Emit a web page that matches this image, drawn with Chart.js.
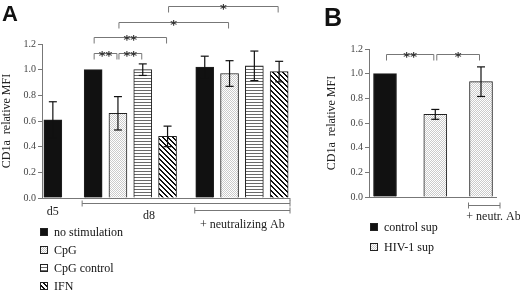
<!DOCTYPE html>
<html lang="en">
<head>
<meta charset="utf-8"/>
<title>CD1a relative MFI</title>
<script src="https://cdn.jsdelivr.net/npm/chart.js"></script>
<style>
  body { margin: 0; background: #fff; }
  #wrap { position: relative; width: 520px; height: 293px; }
  .panel { position: absolute; top: 0; height: 293px; }
  #panelA { left: 0; width: 315px; }
  #panelB { left: 315px; width: 205px; }
</style>
</head>
<body>
<div id="wrap">
  <div class="panel" id="panelA"><canvas id="chartA" width="315" height="293"></canvas></div>
  <div class="panel" id="panelB"><canvas id="chartB" width="205" height="293"></canvas></div>
</div>
<script>
// ---- data, panel A ----
const conditionsA = ['no stimulation', 'CpG', 'CpG control', 'IFN'];
const d5Mean = [0.61];
const d5Err = [0.14];
const d8Mean = [1.00, 0.66, 1.00, 0.48];
const d8Err = [0, 0.13, 0.045, 0.08];
const neutMean = [1.02, 0.97, 1.03, 0.985];
const neutErr = [0.085, 0.10, 0.115, 0.08];
const groupLabelsA = ['d5', 'd8', '+ neutralizing Ab'];
// [group, condition, group, condition, mark]
const sigA = [
  ['d8', 3, 'neut', 3, '*'],
  ['d8', 1, 'neut', 1, '*'],
  ['d8', 0, 'd8', 3, '**'],
  ['d8', 0, 'd8', 1, '**'],
  ['d8', 1, 'd8', 2, '**']
];

// ---- data, panel B ----
const conditionsB = ['control sup', 'HIV-1 sup'];
const meanB = [1.00, 0.67, 0.935];
const errB = [0, 0.04, 0.12];
const condOfBarB = [0, 1, 1];
const neutLabelB = '+ neutr. Ab';
const sigB = [[0, 1, '**'], [1, 2, '*']];

const yTicks = [0, 0.2, 0.4, 0.6, 0.8, 1.0, 1.2];
const yTitle = 'CD1a  relative MFI';

// ---- fills ----
function makeFill(kind) {
  if (kind === 'solid') return '#111';
  const c = document.createElement('canvas');
  const g = c.getContext('2d');
  const n = kind === 'dots' ? 2 : kind === 'hlines' ? 3 : 5;
  c.width = c.height = n;
  g.fillStyle = '#fff';
  g.fillRect(0, 0, n, n);
  for (let x = 0; x < n; x++) {
    for (let y = 0; y < n; y++) {
      if (kind === 'dots' && (x + y) % 2 === 0) { g.fillStyle = '#cbcbcb'; g.fillRect(x, y, 1, 1); }
      if (kind === 'hlines' && y === 0) { g.fillStyle = '#6a6a6a'; g.fillRect(x, y, 1, 1); }
      if (kind === 'diag' && ((x - y + n) % n) < 2) { g.fillStyle = '#111'; g.fillRect(x, y, 1, 1); }
    }
  }
  return g.createPattern(c, 'repeat');
}
const fillKinds = ['solid', 'dots', 'hlines', 'diag'];

// ---- slot layout ----
const SLOTS_A = 80, STEP_A = 8;
const groupStartA = { d5: 3, d8: 16, neut: 52 };
const SLOTS_B = 28;
const slotB = [3, 14, 24];
const slotOfA = (grp, c) => groupStartA[grp] + c * STEP_A;

const serif = 'Liberation Serif';
const axisGray = '#777';

function baseOptions(padding, yWidth) {
  return {
    responsive: false,
    animation: false,
    layout: { padding },
    plugins: { legend: { display: false }, tooltip: { enabled: false } },
    scales: {
      x: {
        offset: true,
        ticks: { display: false },
        grid: { display: false },
        border: { display: false },
        afterFit: s => { s.height = 0; }
      },
      y: {
        min: 0, max: 1.2,
        afterBuildTicks: s => { s.ticks = yTicks.map(v => ({ value: v })); },
        ticks: { padding: 2, color: '#444', font: { family: serif, size: 10 }, callback: v => v.toFixed(1) },
        grid: { drawOnChartArea: false, drawTicks: true, tickLength: 4, color: axisGray },
        border: { display: true, color: axisGray },
        title: { display: true, text: yTitle, color: '#222', font: { family: serif, size: 12 }, padding: { top: 0, bottom: 0 } },
        afterFit: s => { s.width = yWidth; }
      }
    }
  };
}

function line(ctx, x1, y1, x2, y2) {
  ctx.beginPath(); ctx.moveTo(x1, y1); ctx.lineTo(x2, y2); ctx.stroke();
}

function drawErrors(chart) {
  const ctx = chart.ctx, y = chart.scales.y;
  ctx.save();
  ctx.strokeStyle = '#111';
  ctx.lineWidth = 1.2;
  chart.data.datasets.forEach((ds, di) => {
    const meta = chart.getDatasetMeta(di);
    ds.data.forEach((v, i) => {
      const e = ds.errors[i];
      if (v == null || !e) return;
      const x = meta.data[i].x;
      const top = y.getPixelForValue(v + e), bot = y.getPixelForValue(v - e);
      line(ctx, x, top, x, bot);
      line(ctx, x - 4, top, x + 4, top);
      line(ctx, x - 4, bot, x + 4, bot);
    });
  });
  ctx.restore();
}

function bracket(ctx, x1, x2, y, mark) {
  ctx.strokeStyle = axisGray;
  ctx.lineWidth = 1;
  ctx.beginPath();
  ctx.moveTo(x1, y + 6); ctx.lineTo(x1, y); ctx.lineTo(x2, y); ctx.lineTo(x2, y + 6);
  ctx.stroke();
  ctx.fillStyle = '#333';
  ctx.font = 'bold 13px "DejaVu Sans"';
  ctx.textAlign = 'center';
  ctx.textBaseline = 'alphabetic';
  ctx.fillText(mark, (x1 + x2) / 2, y + 6);
}

function rangeLine(ctx, x1, x2, y) {
  ctx.strokeStyle = axisGray;
  ctx.lineWidth = 1;
  line(ctx, x1, y, x2, y);
  line(ctx, x1, y - 3, x1, y + 3);
  line(ctx, x2, y - 3, x2, y + 3);
}

function legend(ctx, x, y0, step, names, kinds) {
  ctx.font = '12px "' + serif + '"';
  ctx.textAlign = 'left';
  ctx.textBaseline = 'middle';
  names.forEach((name, i) => {
    const yc = y0 + i * step;
    ctx.fillStyle = makeFill(kinds[i]);
    ctx.fillRect(x, yc - 4, 8, 8);
    ctx.strokeStyle = '#222';
    ctx.lineWidth = 1;
    ctx.strokeRect(x + 0.5, yc - 3.5, 7, 7);
    ctx.fillStyle = '#111';
    ctx.fillText(name, x + 14, yc + 1);
  });
}

function panelLetter(ctx, t, x, y, size) {
  ctx.fillStyle = '#111';
  ctx.font = 'bold ' + size + 'px "Liberation Sans"';
  ctx.textAlign = 'left';
  ctx.textBaseline = 'top';
  ctx.fillText(t, x, y);
}

// ---- chart A ----
const labelsA = Array.from({ length: SLOTS_A }, () => '');
const datasetsA = conditionsA.map((name, c) => {
  const data = Array(SLOTS_A).fill(null), errors = Array(SLOTS_A).fill(0);
  if (c < d5Mean.length) { data[slotOfA('d5', c)] = d5Mean[c]; errors[slotOfA('d5', c)] = d5Err[c]; }
  data[slotOfA('d8', c)] = d8Mean[c]; errors[slotOfA('d8', c)] = d8Err[c];
  data[slotOfA('neut', c)] = neutMean[c]; errors[slotOfA('neut', c)] = neutErr[c];
  return {
    label: name, data, errors,
    backgroundColor: makeFill(fillKinds[c]),
    borderColor: '#222', borderWidth: 1,
    barThickness: 18, grouped: false
  };
});

const overlayA = {
  id: 'overlayA',
  afterDatasetsDraw(chart) { drawErrors(chart); },
  afterDraw(chart) {
    const ctx = chart.ctx, area = chart.chartArea, xs = chart.scales.x;
    const px = (g, c) => xs.getPixelForValue(slotOfA(g, c));
    ctx.save();
    ctx.strokeStyle = axisGray;
    ctx.lineWidth = 1;
    line(ctx, area.left, area.bottom + 0.5, area.right, area.bottom + 0.5);
    line(ctx, area.right, area.bottom, area.right, area.bottom + 3);

    const d8Left = px('d8', 0) - 11, neutLeft = px('neut', 0) - 10;
    rangeLine(ctx, d8Left, area.right, area.bottom + 5.5);
    rangeLine(ctx, neutLeft, area.right, area.bottom + 12.5);

    ctx.fillStyle = '#222';
    ctx.font = '12px "' + serif + '"';
    ctx.textAlign = 'center';
    ctx.textBaseline = 'middle';
    ctx.fillText(groupLabelsA[0], px('d5', 0), area.bottom + 14);
    ctx.fillText(groupLabelsA[1], (px('d8', 0) + px('neut', 0)) / 2, area.bottom + 18);
    ctx.fillText(groupLabelsA[2], (neutLeft + area.right) / 2, area.bottom + 27);

    const levels = [6, 22, 37, 53, 53];
    sigA.forEach((s, i) => bracket(ctx, px(s[0], s[1]) + 1, px(s[2], s[3]) - 1, levels[i] + 0.5, s[4]));

    legend(ctx, 40, 232, 18, conditionsA, fillKinds);
    panelLetter(ctx, 'A', 2, 4, 22);
    ctx.restore();
  }
};

new Chart(document.getElementById('chartA'), {
  type: 'bar',
  data: { labels: labelsA, datasets: datasetsA },
  options: baseOptions({ top: 44, bottom: 95, left: 0, right: 25 }, 42),
  plugins: [overlayA]
});

// ---- chart B ----
const labelsB = Array.from({ length: SLOTS_B }, () => '');
const datasetsB = conditionsB.map((name, c) => {
  const data = Array(SLOTS_B).fill(null), errors = Array(SLOTS_B).fill(0);
  meanB.forEach((v, i) => {
    if (condOfBarB[i] === c) { data[slotB[i]] = v; errors[slotB[i]] = errB[i]; }
  });
  return {
    label: name, data, errors,
    backgroundColor: makeFill(fillKinds[c]),
    borderColor: '#222', borderWidth: 1,
    barThickness: 23, grouped: false
  };
});

const overlayB = {
  id: 'overlayB',
  afterDatasetsDraw(chart) { drawErrors(chart); },
  afterDraw(chart) {
    const ctx = chart.ctx, area = chart.chartArea, xs = chart.scales.x;
    const px = i => xs.getPixelForValue(slotB[i]);
    ctx.save();
    ctx.strokeStyle = axisGray;
    ctx.lineWidth = 1;
    line(ctx, area.left, area.bottom + 0.5, area.right, area.bottom + 0.5);

    const nx = px(2);
    rangeLine(ctx, nx - 12.5, nx + 19, area.bottom + 8.5);
    ctx.fillStyle = '#222';
    ctx.font = '12px "' + serif + '"';
    ctx.textAlign = 'center';
    ctx.textBaseline = 'middle';
    ctx.fillText(neutLabelB, nx + 12.5, area.bottom + 20);

    sigB.forEach(s => bracket(ctx, px(s[0]) + 1.5, px(s[1]) - 1.5, 54.5, s[2]));

    legend(ctx, 55, 227, 20, conditionsB, fillKinds);
    panelLetter(ctx, 'B', 9, 7, 25);
    ctx.restore();
  }
};

new Chart(document.getElementById('chartB'), {
  type: 'bar',
  data: { labels: labelsB, datasets: datasetsB },
  options: baseOptions({ top: 49, bottom: 96, left: 10, right: 23 }, 44),
  plugins: [overlayB]
});
</script>
</body>
</html>
